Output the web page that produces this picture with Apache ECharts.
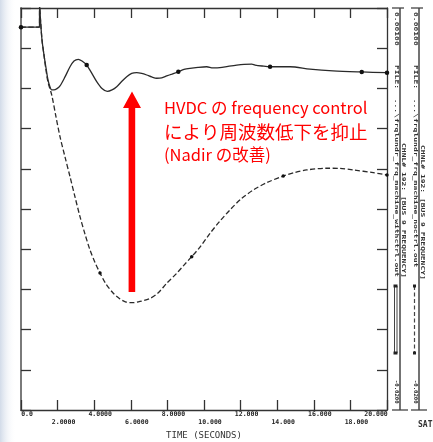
<!DOCTYPE html>
<html><head><meta charset="utf-8">
<script src="https://cdn.jsdelivr.net/npm/echarts@6/dist/echarts.min.js"></script>
<style>html,body{margin:0;padding:0;background:#fff;}#c{width:433px;height:442px;}</style>
</head><body><div id="c"></div>
<script>
// ---- data (time in seconds, bus 9 frequency deviation in pu) ----
const withCtrl = [[0,0],[1.01,0],[1.016,0.00116],[1.066,0.00037],[1.148,-0.00067],[1.257,-0.00146],[1.366,-0.00213],[1.475,-0.00276],[1.585,-0.00313],[1.678,-0.00328],[1.803,-0.00328],[1.967,-0.00321],[2.131,-0.00307],[2.404,-0.00260],[2.678,-0.00207],[2.896,-0.00177],[3.131,-0.00168],[3.333,-0.00177],[3.59,-0.00198],[3.825,-0.00234],[4.137,-0.00285],[4.426,-0.00321],[4.716,-0.00336],[4.973,-0.00328],[5.23,-0.00311],[5.503,-0.00284],[5.776,-0.00259],[6.049,-0.00242],[6.322,-0.00238],[6.596,-0.00242],[6.869,-0.00250],[7.142,-0.00260],[7.415,-0.00267],[7.689,-0.00265],[7.962,-0.00255],[8.25,-0.00245],[8.596,-0.00233],[8.907,-0.00221],[9.235,-0.00215],[9.672,-0.00210],[10.148,-0.00207],[10.49,-0.00213],[10.87,-0.00212],[11.31,-0.00205],[11.79,-0.00198],[12.19,-0.00194],[12.61,-0.00193],[12.79,-0.00198],[13.17,-0.00203],[13.61,-0.00207],[14.70,-0.00207],[15.79,-0.00219],[17.05,-0.00228],[18.62,-0.00234],[20.0,-0.00238]];
const noCtrl = [[0,0],[1.01,0],[1.016,0.00116],[1.066,0.00037],[1.148,-0.00067],[1.257,-0.00146],[1.366,-0.00224],[1.475,-0.00287],[1.678,-0.00354],[1.913,-0.00469],[2.131,-0.00572],[2.404,-0.00678],[2.678,-0.00781],[2.951,-0.00887],[3.224,-0.00990],[3.497,-0.01081],[3.77,-0.01164],[4.044,-0.01229],[4.317,-0.01284],[4.645,-0.01342],[5.044,-0.01390],[5.41,-0.01420],[5.738,-0.01436],[6.137,-0.01439],[6.503,-0.01433],[7.049,-0.01417],[7.486,-0.01389],[7.962,-0.01338],[8.508,-0.01286],[8.907,-0.01243],[9.328,-0.01199],[9.78,-0.01149],[10.33,-0.01077],[10.87,-0.01013],[11.42,-0.00955],[12.02,-0.00898],[12.69,-0.00851],[13.44,-0.00812],[14.33,-0.00778],[14.97,-0.00759],[15.61,-0.00746],[16.70,-0.00737],[17.43,-0.00738],[18.16,-0.00746],[19.25,-0.00760],[20.0,-0.00772]];
const withCtrlMarkT = [0, 3.59, 8.596, 13.61, 18.62, 20.0];
const noCtrlMarkT = [0, 4.317, 9.328, 14.33, 20.0];
const xTickLabels = ['0.0','2.0000','4.0000','6.0000','8.0000','10.000','12.000','14.000','16.000','18.000','20.000'];
const yMin = -0.0200, yMax = 0.00100;
const yDivisions = 10;
const chan1Text = ['0.00100', 'FILE:  ...\\frqlundr_frq_machine_withctrl.out', 'CHNL# 192: [BUS 9 FREQUENCY]', '-0.0200'];
const chan2Text = ['0.00100', 'FILE:  ...\\frqlundr_frq_machine_noctrl.out', 'CHNL# 192: [BUS 9 FREQUENCY]', '-0.0200'];
const noteLines = ['HVDC の frequency control', 'により周波数低下を抑止', '(Nadir の改善)'];

const mono = '"DejaVu Sans Mono", "Liberation Mono", monospace';
const chart = echarts.init(document.getElementById('c'));

function vtext(x, y, text, sx) {
  return {type:'text', x:x, y:y, rotation:-Math.PI/2, scaleX:sx||1, scaleY:0.68, silent:true,
    style:{text:text, font:'bold 8px ' + mono, fill:'#333', align:'left', verticalAlign:'middle'}};
}
function seg(x1,y1,x2,y2,w,dash){
  return {type:'line', silent:true, shape:{x1:x1,y1:y1,x2:x2,y2:y2},
    style:{stroke:'#444', lineWidth:w||1.3, lineDash:dash||null}};
}

const graphics = [
  {type:'rect', shape:{x:0,y:0,width:16,height:442}, silent:true, z:-10,
    style:{fill:new echarts.graphic.LinearGradient(0,0,1,0,[{offset:0,color:'rgba(205,215,230,0.9)'},{offset:1,color:'rgba(255,255,255,0)'}])}},
  // channel columns
  seg(400,8,400,410,1.5), seg(419,8,419,410,1.5),
  seg(392,8,404,8), seg(411,8,423,8),
  seg(392,410,408,410), seg(411,410,427,410),
  vtext(396.5,12,chan1Text[0]), vtext(396.5,65,chan1Text[1]), vtext(403,143,chan1Text[2]), vtext(396.5,380,chan1Text[3],0.7),
  vtext(415,12,chan2Text[0]), vtext(415,65,chan2Text[1]), vtext(422,145,chan2Text[2]), vtext(415,380,chan2Text[3],0.7),
  // legend samples
  seg(394.5,286,394.5,353,1), seg(397,286,397,353,1),
  {type:'rect', shape:{x:393.5,y:284.5,width:4,height:3}, style:{fill:'#222'}},
  {type:'rect', shape:{x:393.5,y:351.5,width:4,height:3}, style:{fill:'#222'}},
  seg(414.5,286,414.5,353,1.2,[4,2.5]),
  {type:'rect', shape:{x:413,y:284.5,width:3,height:3}, style:{fill:'#222'}},
  {type:'rect', shape:{x:413,y:351.5,width:3,height:3}, style:{fill:'#222'}},
  {type:'text', x:418, y:425, silent:true, style:{text:'SAT', font:'bold 8px ' + mono, fill:'#333', verticalAlign:'middle'}},
  // red arrow annotation
  {type:'polygon', silent:true, shape:{points:[[128.6,292],[135.2,292],[135.2,108],[141,108],[132,91.5],[123,108],[128.6,108]]}, style:{fill:'#ff0000'}},
  {type:'text', x:164, y:108, silent:true, style:{text:noteLines[0], font:'16.5px "Noto Sans CJK JP"', fill:'#ff0000', verticalAlign:'middle'}},
  {type:'text', x:164, y:132, silent:true, style:{text:noteLines[1], font:'18.5px "Noto Sans CJK JP"', fill:'#ff0000', verticalAlign:'middle'}},
  {type:'text', x:164, y:155, silent:true, style:{text:noteLines[2], font:'16.5px "Noto Sans CJK JP"', fill:'#ff0000', verticalAlign:'middle'}}
];

const tickStyle = {color:'#333', width:1.3};
const lblRich = {fontFamily:mono, fontWeight:'bold', fontSize:6.5, color:'#222'};
function tickAxis(pos, lineColor, lineWidth) {
  // decoration axis: 10 equal divisions of the frame
  return {type:'value', min:0, max:yDivisions, interval:1, position:pos,
    axisLine:{show:true, onZero:false, lineStyle:{color:lineColor, width:lineWidth}},
    axisTick:{show:true, inside:true, length:10, lineStyle:tickStyle},
    axisLabel:{show:false}, splitLine:{show:false}};
}
chart.setOption({
  animation:false,
  backgroundColor:'#ffffff',
  grid:{left:21, top:8, width:366, height:402, containLabel:false, outerBoundsMode:'none'},
  xAxis:[
    {type:'value', min:0, max:20, interval:2, position:'bottom',
     axisLine:{show:true, onZero:false, lineStyle:{color:'#333', width:1.3}},
     axisTick:{show:true, inside:true, length:10, lineStyle:tickStyle},
     splitLine:{show:false},
     axisLabel:{show:true, margin:1, showMinLabel:true, showMaxLabel:true, hideOverlap:false,
       fontFamily:mono, fontWeight:'bold', fontSize:6.5, color:'#222', align:'center', verticalAlign:'top',
       formatter:function(v){
         const idx = Math.round(v/2);
         const lbl = xTickLabels[idx];
         if (idx === xTickLabels.length - 1) return '{c|' + lbl + '}';
         return (idx % 2 === 0 ? '{a|' : '{b|') + lbl + '}';
       },
       rich:{
         a:Object.assign({padding:[0,0,0,12]}, lblRich),
         b:Object.assign({padding:[8,0,0,12]}, lblRich),
         c:Object.assign({padding:[0,22,0,0]}, lblRich)
       }},
     name:'TIME (SECONDS)', nameLocation:'middle', nameGap:16,
     nameTextStyle:{fontFamily:mono, fontSize:9, color:'#333', verticalAlign:'top'}},
    {type:'value', min:0, max:20, interval:2, position:'top',
     axisLine:{show:true, onZero:false, lineStyle:{color:'#333', width:1.3}},
     axisTick:{show:true, inside:true, length:10, lineStyle:tickStyle},
     axisLabel:{show:false}, splitLine:{show:false}}
  ],
  yAxis:[
    {type:'value', min:yMin, max:yMax, position:'left', show:true,
     axisLine:{show:false}, axisTick:{show:false}, axisLabel:{show:false}, splitLine:{show:false}},
    tickAxis('left', '#7a7a7a', 2),
    tickAxis('right', '#333', 1.3)
  ],
  series:[
    {type:'line', name:'withctrl', xAxisIndex:0, yAxisIndex:0, data:withCtrl, smooth:0.3, clip:true,
     symbol:'circle', showAllSymbol:true,
     symbolSize:function(v){ return withCtrlMarkT.indexOf(v[0]) >= 0 ? 4.5 : 0; },
     itemStyle:{color:'#111'}, lineStyle:{color:'#2a2a2a', width:1.3}, z:3},
    {type:'line', name:'noctrl', xAxisIndex:0, yAxisIndex:0, data:noCtrl, smooth:0.3, clip:true,
     symbol:'circle', showAllSymbol:true,
     symbolSize:function(v){ return noCtrlMarkT.indexOf(v[0]) >= 0 ? 3.5 : 0; },
     itemStyle:{color:'#111'}, lineStyle:{color:'#2a2a2a', width:1.3, type:[5,2.5]}, z:2}
  ],
  graphic: graphics
});
</script></body></html>
